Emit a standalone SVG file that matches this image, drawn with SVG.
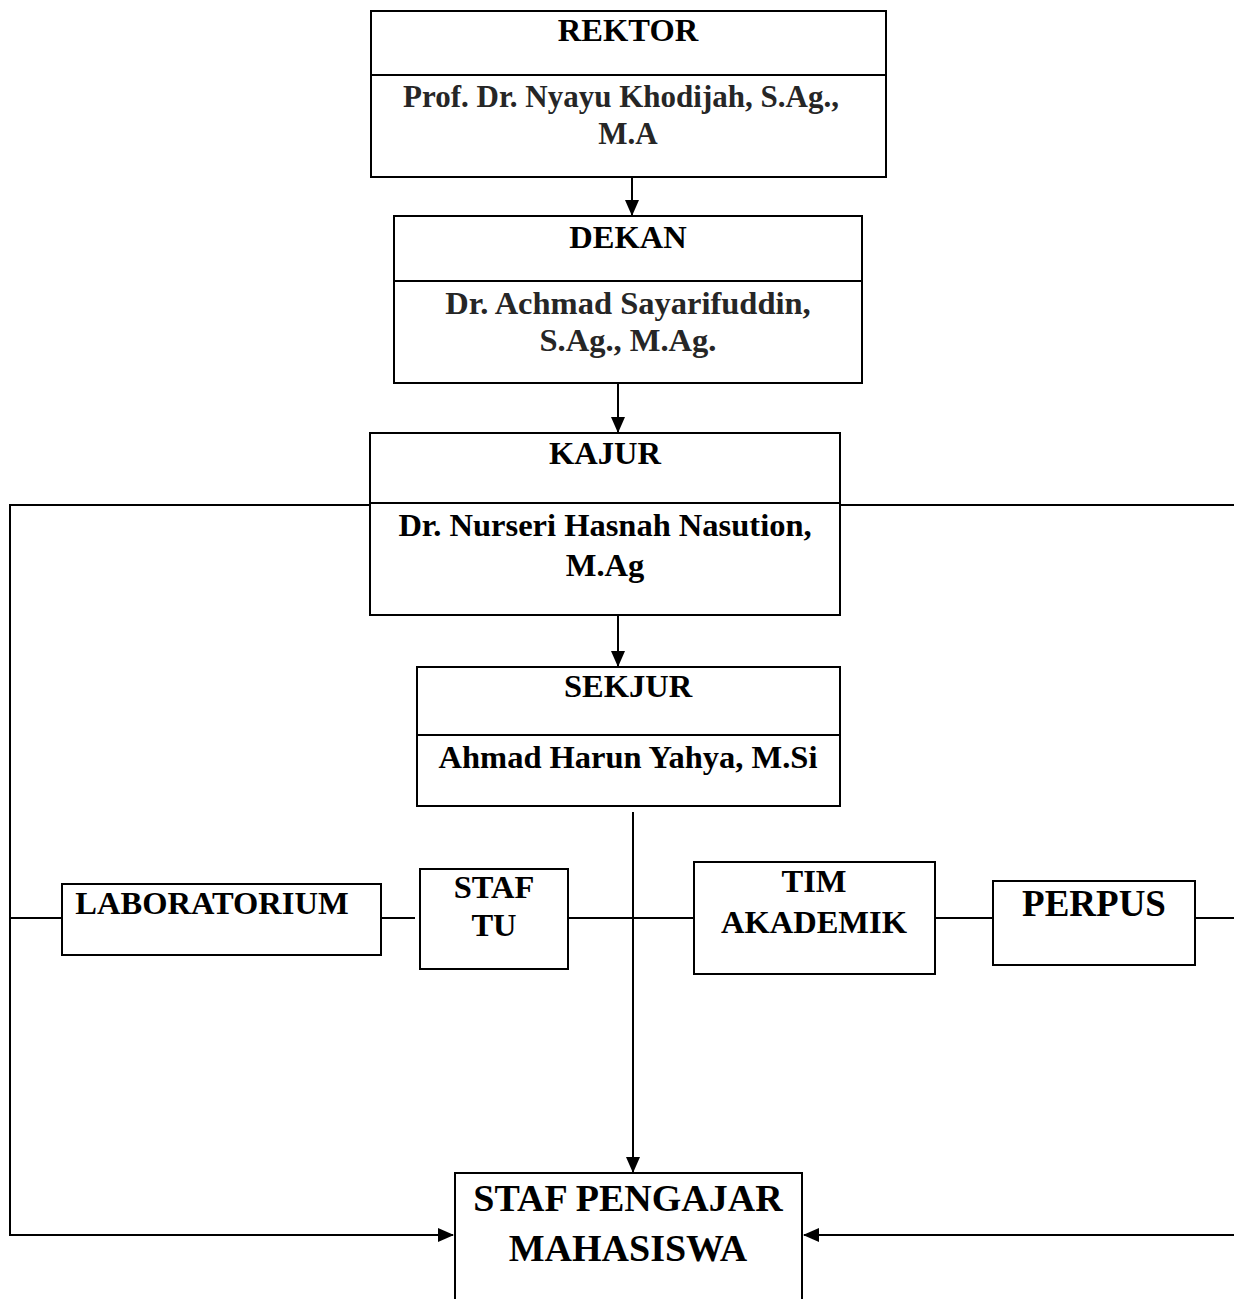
<svg xmlns="http://www.w3.org/2000/svg" width="1234" height="1299" viewBox="0 0 1234 1299">
<style>
.box{fill:#fff;stroke:#000;stroke-width:2}
.ln{fill:none;stroke:#000;stroke-width:2}
.t{font-family:"Liberation Serif","Times New Roman",serif;font-weight:bold;font-size:32.5px;fill:#000;text-anchor:middle}
.n{fill:#262626}
.sm{font-size:31px}
.big{font-size:38px}
</style>
<defs>
<marker id="ah" markerWidth="16" markerHeight="14" refX="15" refY="7" orient="auto" markerUnits="userSpaceOnUse">
<path d="M0,0 L16,7 L0,14 Z" fill="#000"/>
</marker>
</defs>
<g id="connectors">
<line class="ln" x1="632" y1="177" x2="632" y2="215" marker-end="url(#ah)"/>
<line class="ln" x1="618" y1="383" x2="618" y2="432" marker-end="url(#ah)"/>
<line class="ln" x1="618" y1="615" x2="618" y2="666" marker-end="url(#ah)"/>
<line class="ln" x1="633" y1="812" x2="633" y2="1172" marker-end="url(#ah)"/>
<polyline class="ln" points="370,505 10,505 10,1235 453,1235" marker-end="url(#ah)"/>
<polyline class="ln" points="840,505 1234,505"/>
<polyline class="ln" points="1236,1235 804,1235" marker-end="url(#ah)"/>
<line class="ln" x1="10" y1="918" x2="62" y2="918"/>
<line class="ln" x1="381" y1="918" x2="415" y2="918"/>
<line class="ln" x1="568" y1="918" x2="694" y2="918"/>
<line class="ln" x1="935" y1="918" x2="993" y2="918"/>
<line class="ln" x1="1195" y1="918" x2="1234" y2="918"/>
</g>
<g id="rektor">
<rect class="box" x="371" y="11" width="515" height="166"/>
<line class="ln" x1="371" y1="75" x2="886" y2="75"/>
<text class="t" x="628" y="41">REKTOR</text>
<text class="t n sm" x="621" y="107">Prof. Dr. Nyayu Khodijah, S.Ag.,</text>
<text class="t n sm" x="628" y="144">M.A</text>
</g>
<g id="dekan">
<rect class="box" x="394" y="216" width="468" height="167"/>
<line class="ln" x1="394" y1="281" x2="862" y2="281"/>
<text class="t" x="628" y="248">DEKAN</text>
<text class="t n" x="628" y="314">Dr. Achmad Sayarifuddin,</text>
<text class="t n" x="628" y="351">S.Ag., M.Ag.</text>
</g>
<g id="kajur">
<rect class="box" x="370" y="433" width="470" height="182"/>
<line class="ln" x1="370" y1="503" x2="840" y2="503"/>
<text class="t" x="605" y="464">KAJUR</text>
<text class="t" x="605" y="536">Dr. Nurseri Hasnah Nasution,</text>
<text class="t" x="605" y="576">M.Ag</text>
</g>
<g id="sekjur">
<rect class="box" x="417" y="667" width="423" height="139"/>
<line class="ln" x1="417" y1="735" x2="840" y2="735"/>
<text class="t" x="628" y="697">SEKJUR</text>
<text class="t" x="628" y="768">Ahmad Harun Yahya, M.Si</text>
</g>
<g id="laboratorium">
<rect class="box" x="62" y="884" width="319" height="71"/>
<text class="t" x="212" y="914">LABORATORIUM</text>
</g>
<g id="staf-tu">
<rect class="box" x="420" y="869" width="148" height="100"/>
<text class="t" x="494" y="898">STAF</text>
<text class="t" x="494" y="936">TU</text>
</g>
<g id="tim-akademik">
<rect class="box" x="694" y="862" width="241" height="112"/>
<text class="t" x="814" y="892">TIM</text>
<text class="t" x="814" y="933">AKADEMIK</text>
</g>
<g id="perpus">
<rect class="box" x="993" y="881" width="202" height="84"/>
<text class="t big" x="1094" y="916" style="font-size:37px">PERPUS</text>
</g>
<g id="staf-pengajar">
<rect class="box" x="455" y="1173" width="347" height="140"/>
<text class="t big" x="628" y="1211">STAF PENGAJAR</text>
<text class="t big" x="628" y="1261">MAHASISWA</text>
</g>
</svg>
